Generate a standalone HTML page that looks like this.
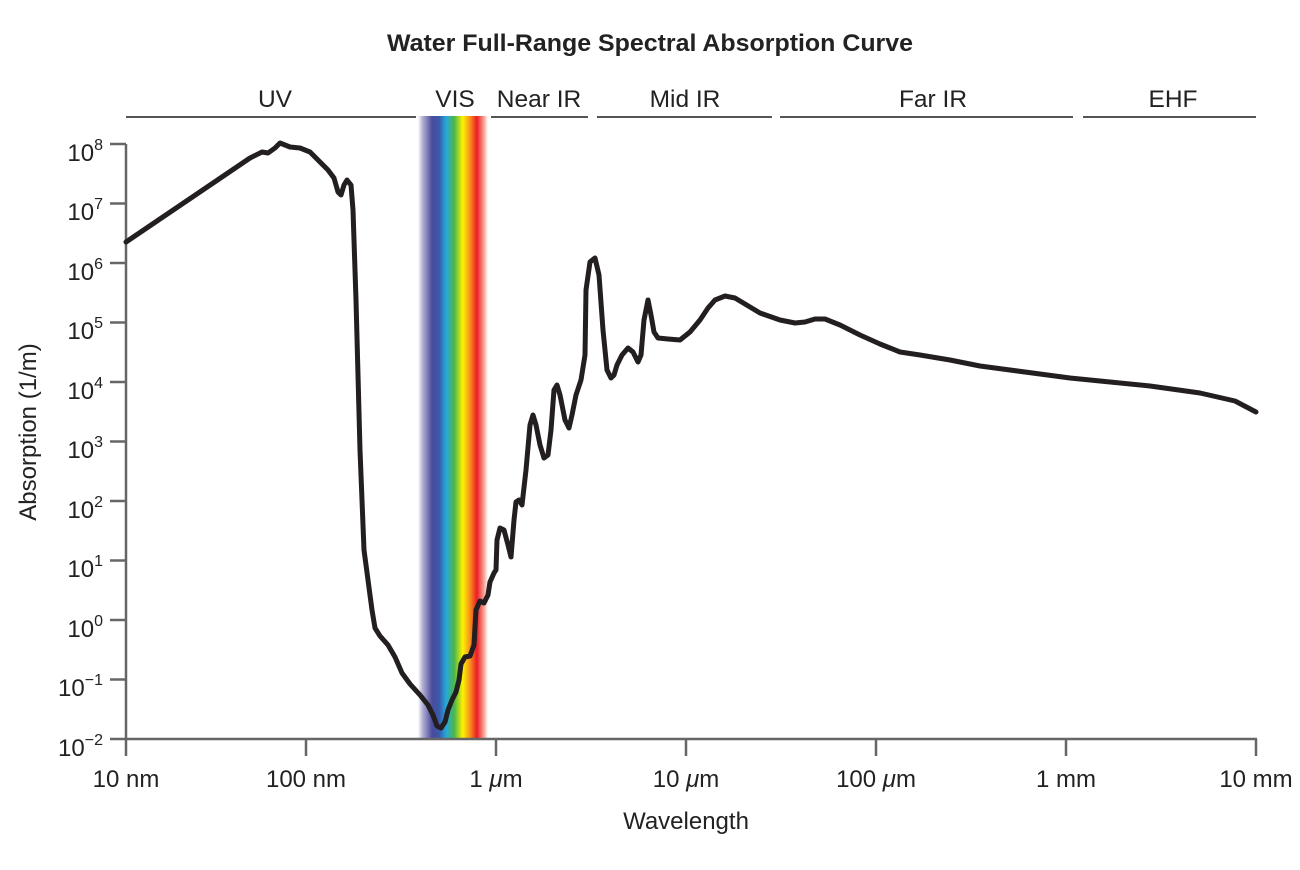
<!DOCTYPE html>
<html><head><meta charset="utf-8"><style>
body{margin:0;background:#fff}
svg text{font-family:"Liberation Sans",sans-serif;fill:#222}
</style></head><body>
<svg width="1300" height="865" viewBox="0 0 1300 865" xmlns="http://www.w3.org/2000/svg">
<defs>
<linearGradient id="sp" x1="0" x2="1" y1="0" y2="0">
<stop offset="0" stop-color="#fff"/>
<stop offset="0.06" stop-color="#b8b4d6"/>
<stop offset="0.2" stop-color="#4a4c9c"/>
<stop offset="0.3" stop-color="#3a58a8"/>
<stop offset="0.4" stop-color="#25a8dc"/>
<stop offset="0.52" stop-color="#4cb848"/>
<stop offset="0.64" stop-color="#fff200"/>
<stop offset="0.74" stop-color="#f7941d"/>
<stop offset="0.84" stop-color="#ed1c24"/>
<stop offset="0.94" stop-color="#f7a090"/>
<stop offset="1" stop-color="#fff"/>
</linearGradient>
</defs>
<text x="650" y="51" font-size="24.5" font-weight="bold" text-anchor="middle" textLength="526" lengthAdjust="spacingAndGlyphs">Water Full-Range Spectral Absorption Curve</text>
<g stroke="#555" stroke-width="2">
<line x1="126" y1="117" x2="416" y2="117"/>
<line x1="491" y1="117" x2="588" y2="117"/>
<line x1="597" y1="117" x2="772" y2="117"/>
<line x1="780" y1="117" x2="1073" y2="117"/>
<line x1="1083" y1="117" x2="1256" y2="117"/>
</g>
<g font-size="24.5" text-anchor="middle">
<text x="275" y="107">UV</text><text x="455" y="107">VIS</text><text x="539" y="107">Near IR</text>
<text x="685" y="107">Mid IR</text><text x="933" y="107">Far IR</text><text x="1173" y="107">EHF</text>
</g>
<rect x="418" y="116" width="70" height="623" fill="url(#sp)"/>
<g stroke="#666" stroke-width="2.5" fill="none">
<line x1="126" y1="144" x2="126" y2="739"/>
<line x1="126" y1="739" x2="1257" y2="739"/>
<path d="M110 144H126M110 203.5H126M110 263H126M110 322.5H126M110 382H126M110 441.5H126M110 501H126M110 560.5H126M110 620H126M110 679.5H126M110 739H126"/>
<path d="M126 739V756M306 739V756M496 739V756M686 739V756M876 739V756M1066 739V756M1256 739V756"/>
</g>
<g font-size="24" text-anchor="end">
<text x="103" y="161">10<tspan font-size="16" dy="-11">8</tspan></text>
<text x="103" y="220">10<tspan font-size="16" dy="-11">7</tspan></text>
<text x="103" y="280">10<tspan font-size="16" dy="-11">6</tspan></text>
<text x="103" y="339">10<tspan font-size="16" dy="-11">5</tspan></text>
<text x="103" y="399">10<tspan font-size="16" dy="-11">4</tspan></text>
<text x="103" y="458">10<tspan font-size="16" dy="-11">3</tspan></text>
<text x="103" y="518">10<tspan font-size="16" dy="-11">2</tspan></text>
<text x="103" y="577">10<tspan font-size="16" dy="-11">1</tspan></text>
<text x="103" y="637">10<tspan font-size="16" dy="-11">0</tspan></text>
<text x="103" y="696">10<tspan font-size="16" dy="-11">−1</tspan></text>
<text x="103" y="756">10<tspan font-size="16" dy="-11">−2</tspan></text>
</g>
<g font-size="24" text-anchor="middle">
<text x="126" y="787">10 nm</text><text x="306" y="787">100 nm</text>
<text x="496" y="787">1 <tspan font-style="italic">μ</tspan>m</text>
<text x="686" y="787">10 <tspan font-style="italic">μ</tspan>m</text>
<text x="876" y="787">100 <tspan font-style="italic">μ</tspan>m</text>
<text x="1066" y="787">1 mm</text><text x="1256" y="787">10 mm</text>
<text x="686" y="829">Wavelength</text>
<text transform="translate(36,432) rotate(-90)">Absorption (1/m)</text>
</g>
<polyline fill="none" stroke="#231f20" stroke-width="5" stroke-linejoin="round" stroke-linecap="round" points="126,242 250,158 262,152 268,153 275,148 280,143 285,145 290,147 300,148 310,152 318,160 328,170 334,178 338,192 341,195 344,185 347,180 351,185 353,210 356,300 360,450 364,550 368,580 372,610 375,628 380,636 388,645 395,657 402,673 410,684 420,695 428,705 433,715 437,726 441,728 445,722 448,710 452,700 456,692 459,680 461,664 465,657 470,656 474,645 476,610 480,601 484,603 488,595 490,582 494,573 496,570 497,540 500,528 504,530 508,545 511,557 514,520 516,502 519,500 522,505 526,470 530,425 533,415 536,425 540,445 544,458 548,455 551,430 554,390 557,385 560,395 565,420 569,428 572,415 576,395 581,380 585,355 586,290 590,262 595,258 599,275 603,330 607,370 611,378 614,375 617,365 622,355 628,348 633,352 638,362 641,355 644,320 648,300 651,315 654,332 658,338 668,339 680,340 690,332 700,320 708,308 715,300 725,296 735,298 745,304 760,313 780,320 795,323 805,322 815,319 825,319 840,325 860,335 880,344 900,352 920,355 950,360 980,366 1010,370 1040,374 1070,378 1100,381 1150,386 1200,393 1235,401 1256,412"/>
</svg>
</body></html>
